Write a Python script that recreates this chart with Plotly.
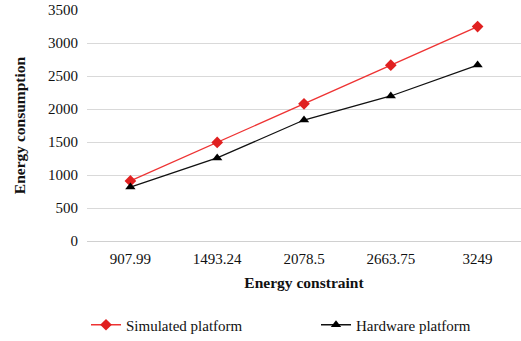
import plotly.graph_objects as go

categories = ["907.99", "1493.24", "2078.5", "2663.75", "3249"]
simulated = [910, 1493, 2079, 2664, 3249]
hardware = [818, 1258, 1833, 2197, 2665]

SERIF = "Times New Roman"
W, H = 521, 341

fig = go.Figure()
fig.add_trace(go.Scatter(
    x=categories, y=simulated, name="Simulated platform", mode="lines+markers",
    line=dict(color="#ee3333", width=1.3),
    marker=dict(symbol="diamond", size=9, color="#e02020"),
    legend="legend",
))
fig.add_trace(go.Scatter(
    x=categories, y=hardware, name="Hardware platform", mode="lines+markers",
    line=dict(color="#111111", width=1.3),
    marker=dict(symbol="triangle-up", size=9, color="#000000"),
    legend="legend2",
))

leg_common = dict(orientation="h", xref="container", yref="container",
                  xanchor="left", yanchor="middle", y=1 - 325 / H,
                  font=dict(family=SERIF, size=15), itemwidth=30,
                  bgcolor="rgba(0,0,0,0)")

fig.update_layout(
    width=W, height=H,
    margin=dict(l=87, r=0, t=10, b=100, autoexpand=False),
    paper_bgcolor="white", plot_bgcolor="white",
    font=dict(family=SERIF, size=15, color="#111111"),
    showlegend=True,
    legend=dict(x=86 / W, **leg_common),
    legend2=dict(x=316 / W, **leg_common),
    xaxis=dict(
        type="category",
        title=dict(text="<b>Energy constraint</b>", font=dict(family=SERIF, size=15.5), standoff=11),
        tickfont=dict(family=SERIF, size=15), ticklabelstandoff=7,
        showgrid=False, showline=False, ticks="", zeroline=False,
        range=[-0.5, 4.5], automargin=False,
    ),
    yaxis=dict(
        title=dict(text="<b>Energy consumption</b>", font=dict(family=SERIF, size=15.5), standoff=18),
        tickfont=dict(family=SERIF, size=15), ticklabelstandoff=8,
        range=[0, 3500], dtick=500, tickmode="linear",
        showgrid=True, gridcolor="#d9d9d9", gridwidth=1,
        zeroline=True, zerolinecolor="#d0d0d0", zerolinewidth=1,
        showline=False, ticks="", automargin=False,
    ),
)

fig.write_html("out.html", config={"displayModeBar": False},
               post_script="document.body.style.margin='0';")
